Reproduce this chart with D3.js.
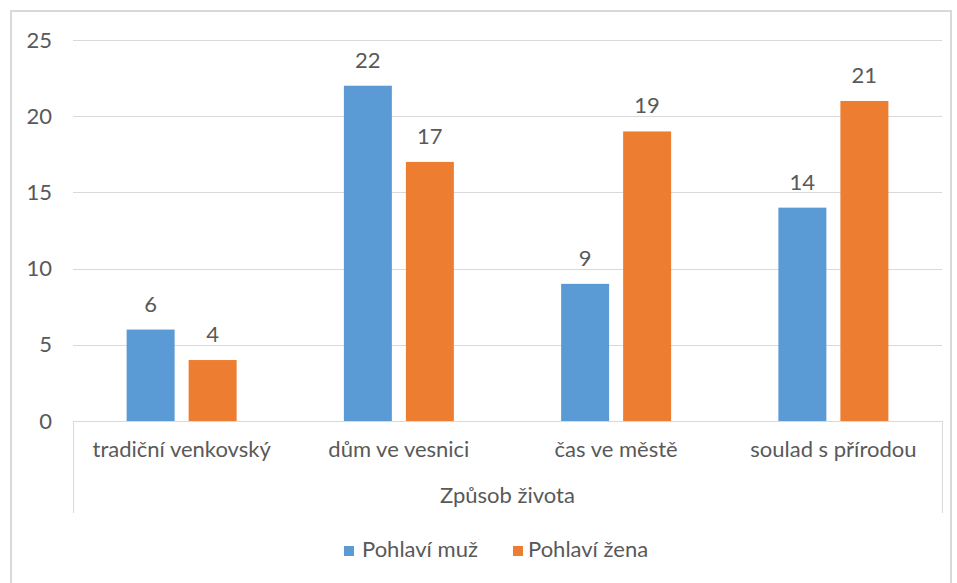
<!DOCTYPE html>
<html>
<head>
<meta charset="utf-8">
<style>
	body { margin: 0; background: #fff; }
	text {
		font-family: Lato, "Open Sans", sans-serif;
		fill: #595959;
	}
	.grid line { stroke: #d9d9d9; stroke-width: 1px; }
	.y.axis path, .y.axis line { display: none; }
	.y.axis text { font-size: 22px; font-family: Lato, "Open Sans", sans-serif; fill: #595959; }
</style>
<script src="https://d3js.org/d3.v7.min.js"></script>
</head>
<body>
<script>
	"use strict";
	var categories = ["tradiční venkovský", "dům ve vesnici", "čas ve městě", "soulad s přírodou"];
	var seriesNames = ["Pohlaví muž", "Pohlaví žena"];
	var muz  = [6, 22, 9, 14];
	var zena = [4, 17, 19, 21];
	var yTicks = [0, 5, 10, 15, 20, 25];
	var axisTitle = "Způsob života";
	var colors = ["#5b9bd5", "#ed7d31"];

	var width = 957, height = 583;
	var plotLeft = 73, plotRight = 942, plotTop = 40, plotBottom = 421;
	var fs = "22px";

	var svg = d3.select("body").append("svg")
		.attr("width", width)
		.attr("height", height);

	// chart border
	svg.append("rect")
		.attr("x", 11).attr("y", 11)
		.attr("width", 940).attr("height", 590)
		.attr("fill", "none")
		.attr("stroke", "#d9d9d9")
		.attr("stroke-width", 2);

	var y = d3.scaleLinear().domain([0, 25]).range([plotBottom, plotTop]);
	var x0 = d3.scaleBand().domain(categories).range([plotLeft, plotRight])
		.paddingInner(0.4937).paddingOuter(0.4937 / 2);
	var x1 = d3.scaleBand().domain(seriesNames).range([0, x0.bandwidth()])
		.paddingInner(0.226);

	svg.append("g").attr("class", "grid")
		.selectAll("line").data(yTicks).enter().append("line")
		.attr("x1", plotLeft).attr("x2", plotRight)
		.attr("y1", function(d){ return Math.round(y(d)) + 0.5; })
		.attr("y2", function(d){ return Math.round(y(d)) + 0.5; });

	// category axis side lines
	svg.append("g").attr("class", "grid")
		.selectAll("line").data([plotLeft, plotRight]).enter().append("line")
		.attr("x1", function(d){ return d + 0.5; })
		.attr("x2", function(d){ return d + 0.5; })
		.attr("y1", plotBottom).attr("y2", 513);

	var yAxis = d3.axisLeft(y).tickValues(yTicks).tickSize(0).tickPadding(0);
	svg.append("g").attr("class", "y axis")
		.attr("transform", "translate(52,0)")
		.call(yAxis);

	var rows = categories.map(function(c, i){
		return { cat: c, values: [muz[i], zena[i]] };
	});

	var groups = svg.selectAll(".cat").data(rows).enter().append("g")
		.attr("transform", function(d){ return "translate(" + x0(d.cat) + ",0)"; });

	groups.selectAll("rect").data(function(d){
			return d.values.map(function(v, j){ return { s: seriesNames[j], v: v, j: j }; });
		})
		.enter().append("rect")
		.attr("x", function(d){ return x1(d.s); })
		.attr("y", function(d){ return y(d.v); })
		.attr("width", x1.bandwidth())
		.attr("height", function(d){ return plotBottom - y(d.v); })
		.attr("fill", function(d){ return colors[d.j]; });

	groups.selectAll(".lbl").data(function(d){
			return d.values.map(function(v, j){ return { s: seriesNames[j], v: v }; });
		})
		.enter().append("text")
		.attr("class", "lbl")
		.attr("x", function(d){ return x1(d.s) + x1.bandwidth() / 2; })
		.attr("y", function(d){ return y(d.v) - 18; })
		.attr("text-anchor", "middle")
		.attr("font-size", fs)
		.text(function(d){ return d.v; });

	svg.selectAll(".catlbl").data(categories).enter().append("text")
		.attr("x", function(d){ return x0(d) + x0.bandwidth() / 2; })
		.attr("y", 457)
		.attr("text-anchor", "middle")
		.attr("font-size", fs)
		.text(function(d){ return d; });

	svg.append("text")
		.attr("x", (plotLeft + plotRight) / 2)
		.attr("y", 503)
		.attr("text-anchor", "middle")
		.attr("font-size", fs)
		.text(axisTitle);

	// legend
	var legend = svg.append("g");
	var lx = [344, 513];
	seriesNames.forEach(function(s, i){
		legend.append("rect")
			.attr("x", lx[i]).attr("y", 546)
			.attr("width", 10).attr("height", 10)
			.attr("fill", colors[i]);
		legend.append("text")
			.attr("x", lx[i] + (i === 0 ? 18 : 15)).attr("y", 557)
			.attr("font-size", fs)
			.text(s);
	});
</script>
</body>
</html>
